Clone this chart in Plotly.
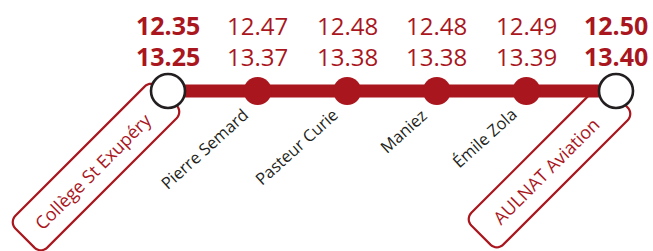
import math
import plotly.graph_objects as go

# ---- data ----
stops = ["Collège St Exupéry", "Pierre Semard", "Pasteur Curie", "Maniez", "Émile Zola", "AULNAT Aviation"]
times_1 = ["12.35", "12.47", "12.48", "12.48", "12.49", "12.50"]
times_2 = ["13.25", "13.37", "13.38", "13.38", "13.39", "13.40"]
terminus = [True, False, False, False, False, True]

# ---- style ----
RED = "#A9161D"
DARK = "#231F20"
W, H = 653, 251
X0_PX, STEP_PX = 168.0, 89.6   # pixel position of first stop and spacing
LINE_Y = 91

idx = list(range(len(stops)))
x_lo = -X0_PX / STEP_PX
x_hi = (W - X0_PX) / STEP_PX


def px_to_x(px):
    return (px - X0_PX) / STEP_PX


fig = go.Figure()

# line
fig.add_trace(go.Scatter(x=idx, y=[LINE_Y] * len(idx), mode="lines",
                         line=dict(color=RED, width=13), hoverinfo="skip", showlegend=False))
# intermediate stops
mid = [i for i in idx if not terminus[i]]
fig.add_trace(go.Scatter(x=mid, y=[LINE_Y] * len(mid), mode="markers",
                         marker=dict(color=RED, size=28, line=dict(width=0)),
                         hoverinfo="skip", showlegend=False))
# terminus stops
ends = [i for i in idx if terminus[i]]
fig.add_trace(go.Scatter(x=ends, y=[LINE_Y] * len(ends), mode="markers",
                         marker=dict(color="white", size=34, line=dict(color=DARK, width=2.6)),
                         hoverinfo="skip", showlegend=False))

annotations = []
for i in idx:
    bold = terminus[i]
    for t, yy in ((times_1[i], 25), (times_2[i], 56)):
        annotations.append(dict(x=i, y=yy, text=t, showarrow=False, xanchor="center", yanchor="middle",
                                font=dict(family="Open Sans", size=25 if bold else 24, color=RED,
                                          weight="bold" if bold else "normal")))
    if not terminus[i]:
        annotations.append(dict(x=i, y=100, text=stops[i], showarrow=False, textangle=-42,
                                xanchor="right", yanchor="top", xshift=-2,
                                font=dict(family="Open Sans", size=16.5, color=DARK)))


def rounded_rect_path(cx, cy, length, width, angle_deg, r):
    a = math.radians(angle_deg)
    ux, uy = math.cos(a), -math.sin(a)       # along text
    nx, ny = -uy, ux                          # perpendicular
    hl, hw = length / 2 - r, width / 2 - r
    pts = []
    corners = [(hl, -hw, -90, 0), (hl, hw, 0, 90), (-hl, hw, 90, 180), (-hl, -hw, 180, 270)]
    for (lx, ly, a0, a1) in corners:
        for k in range(9):
            t = math.radians(a0 + (a1 - a0) * k / 8)
            px_ = lx + r * math.cos(t)
            py_ = ly + r * math.sin(t)
            X = cx + px_ * ux + py_ * nx
            Y = cy + px_ * uy + py_ * ny
            pts.append((px_to_x(X), Y))
    return "M " + " L ".join(f"{p[0]:.5f},{p[1]:.3f}" for p in pts) + " Z"


# terminus label boxes (pixel centre, length, width) and label centre offsets
boxes = {0: (96, 167, 201, 45, -3, 4), 5: (549.5, 166.5, 194, 45, -4, 4)}
shapes = []
for i, (cx, cy, L, Wd, dx, dy) in boxes.items():
    shapes.append(dict(type="path", path=rounded_rect_path(cx, cy, L, Wd, 45, 9),
                       xref="x", yref="y", line=dict(color=RED, width=2.2),
                       fillcolor="rgba(0,0,0,0)", layer="below"))
    annotations.append(dict(x=px_to_x(cx + dx), y=cy + dy, text=stops[i], showarrow=False, textangle=-45,
                            xanchor="center", yanchor="middle",
                            font=dict(family="Open Sans", size=18, color=RED)))

fig.update_layout(
    width=W, height=H, margin=dict(l=0, r=0, t=0, b=0),
    paper_bgcolor="white", plot_bgcolor="white",
    xaxis=dict(range=[x_lo, x_hi], visible=False, fixedrange=True),
    yaxis=dict(range=[H, 0], visible=False, fixedrange=True),
    annotations=annotations, shapes=shapes, showlegend=False,
)

fig.write_html("out.html", config={"displayModeBar": False},
               post_script="document.body.style.margin='0';document.body.style.overflow='hidden';")
